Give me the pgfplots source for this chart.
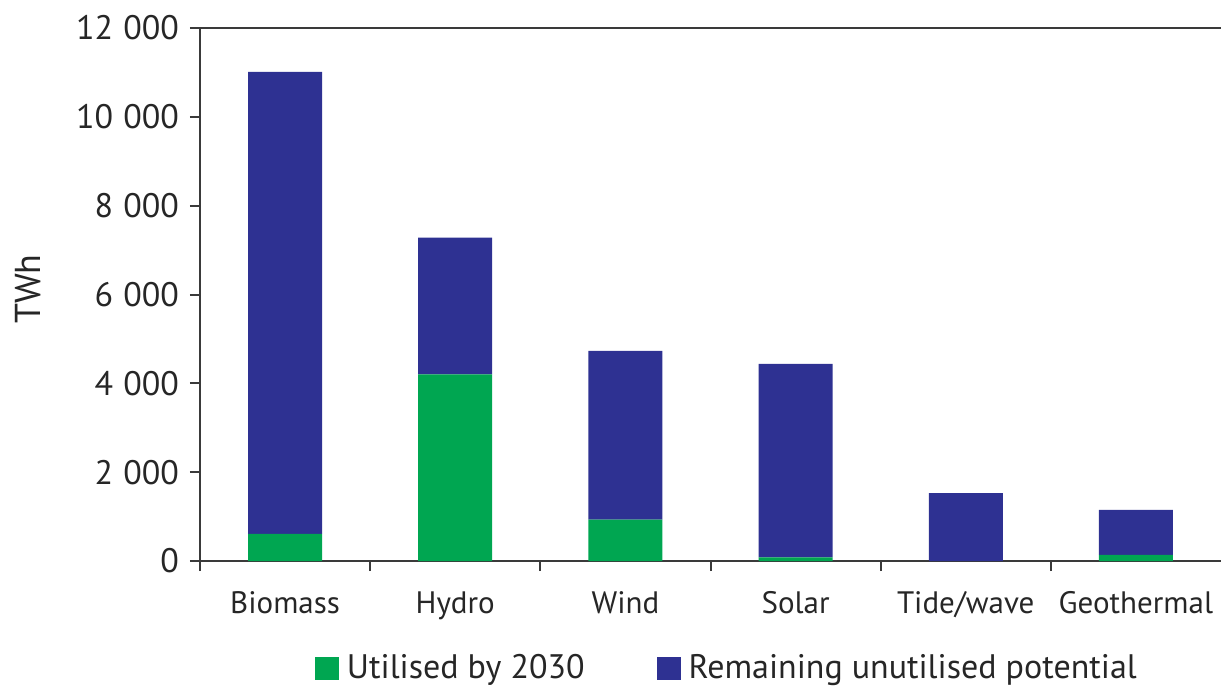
\documentclass[border=0pt]{standalone}
\usepackage{fontspec}
\setmainfont{PT Sans}
\usepackage{pgfplots}
\pgfplotsset{compat=1.18}
\definecolor{cgreen}{HTML}{00A651}
\definecolor{cblue}{HTML}{2E3192}
\definecolor{axgray}{HTML}{3A3A3A}
\newcommand{\chartfont}{\fontsize{15.5}{18}\selectfont}
\newcommand{\yfont}{\fontsize{17}{20}\selectfont}
\newcommand{\legfont}{\fontsize{17}{20}\selectfont}
\newcommand{\ts}{\hspace{0.3em}}
\begin{document}
\begin{tikzpicture}
\begin{axis}[
  at={(0,0)}, anchor=south west,
  scale only axis,
  width=510.5pt, height=266.5pt,
  ybar stacked,
  bar width=37pt,
  xmin=-0.5, xmax=5.5,
  ymin=0, ymax=12000,
  scaled y ticks=false,
  axis x line*=bottom, axis y line*=left,
  axis line style={axgray, line width=1pt},
  every tick/.style={axgray, line width=1pt},
  tick align=outside,
  major tick length=5pt,
  xtick={-0.5,0.5,1.5,2.5,3.5,4.5},
  xticklabels={},
  extra x ticks={0,1,2,3,4,5},
  extra x tick labels={Biomass,Hydro,Wind,Solar,Tide/wave,Geothermal},
  extra x tick style={major tick length=0pt, tick label style={anchor=base, yshift=-26pt}},
  ytick={0,2000,4000,6000,8000,10000,12000},
  yticklabels={0,2\ts000,4\ts000,6\ts000,8\ts000,10\ts000,12\ts000},
  tick label style={font=\chartfont, text=black!85},
  yticklabel style={xshift=-2pt, font=\yfont},
  legend style={at={(rel axis cs:0.1126,0)}, anchor=west, yshift=-53.5pt, draw=none, fill=none,
    inner sep=0pt, outer sep=0pt,
    legend columns=2, font=\legfont, text=black!85,
    nodes={inner sep=0pt},
    /tikz/every odd column/.append style={column sep=4pt},
    /tikz/every even column/.append style={column sep=36pt}},
  legend image code/.code={\fill[#1] (0pt,-5.75pt) rectangle (12pt,5.75pt);},
  clip=false,
]
\addplot[draw=none, fill=cgreen] coordinates {(0,610) (1,4200) (2,930) (3,80) (4,0) (5,140)};
\addplot[draw=none, fill=cblue] coordinates {(0,10400) (1,3080) (2,3800) (3,4360) (4,1530) (5,1010)};
\legend{Utilised by 2030, Remaining unutilised potential}
\draw[axgray, line width=1pt] (rel axis cs:0,1) -- (rel axis cs:1,1);
\node[rotate=90, font=\fontsize{18}{20}\selectfont, text=black!85] at ([xshift=-86pt]rel axis cs:0,0.51) {TWh};
\end{axis}
\pgfresetboundingbox
\useasboundingbox (-100pt,-63pt) rectangle (510.5pt,280.5pt);
\end{tikzpicture}
\end{document}
